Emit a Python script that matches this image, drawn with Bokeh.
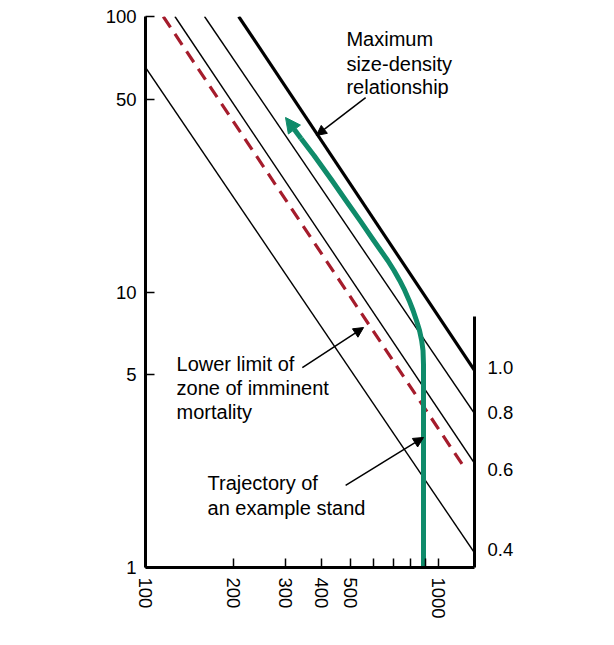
from bokeh.plotting import figure
from bokeh.models import (Range1d, LogAxis, LogScale, FixedTicker, NumeralTickFormatter,
                          Label, Arrow, NormalHead)
from bokeh.embed import file_html
from bokeh.resources import INLINE

# ---------------- data ----------------
# Relative-density lines: (trees per acre, average tree volume) end points
rd_levels = [1.0, 0.8, 0.6, 0.4]
rd_n_start = [208, 159, 126, 100]
rd_v_start = [100, 100, 100, 65.3]
rd_n_end = [1327, 1327, 1327, 1327]
rd_v_end = [5.19, 3.62, 2.39, 1.13]
rd_widths = [3.2, 1.4, 1.4, 1.4]

# Lower limit of zone of imminent mortality (dashed)
mort_n = [115, 1217]
mort_v = [100, 2.33]

# Trajectory of an example stand (from the start upward)
traj_n = [889, 889, 885.5, 876, 861.5, 841, 819, 794, 767, 737, 705, 671, 635, 601,
          540, 483, 433, 376, 339.5]
traj_v = [1.0, 5.41, 6.13, 6.67, 7.25, 7.88, 8.57, 9.32, 10.13, 11.01, 11.97, 13.01, 14.15,
          15.38, 18.17, 21.48, 25.39, 31.29, 36.07]
traj_tip = (300.5, 43.0)

x_ticks = [100, 200, 300, 400, 500, 1000]
x_minor_ticks = [600, 700, 800, 900]
y_ticks = [1, 5, 10, 50, 100]
rd_ticks = [0.4, 0.6, 0.8, 1.0]

FONT = "Liberation Sans"
GREEN = "#0F8B6A"
RED = "#A51C2C"

p = figure(width=614, height=645, x_axis_type="log", y_axis_type="log",
           x_range=Range1d(100, 1327), y_range=Range1d(1, 100),
           output_backend="svg", toolbar_location=None,
           min_border_left=145, min_border_right=140,
           min_border_top=16, min_border_bottom=78)
p.outline_line_color = None
p.xgrid.grid_line_color = None
p.ygrid.grid_line_color = None
p.background_fill_color = "white"
p.border_fill_color = "white"

# ---- bottom axis
xa = p.xaxis[0]
xa.ticker = FixedTicker(ticks=x_ticks, minor_ticks=x_minor_ticks)
xa.formatter = NumeralTickFormatter(format="0")
xa.axis_line_width = 3
xa.axis_line_color = "black"
xa.major_tick_in = 9
xa.major_tick_out = 0
xa.minor_tick_in = 9
xa.minor_tick_out = 0
xa.major_tick_line_width = 1.5
xa.minor_tick_line_width = 1.5
xa.major_tick_line_color = "black"
xa.minor_tick_line_color = "black"
xa.major_label_orientation = "vertical"
xa.major_label_standoff = 10
xa.major_label_text_font = FONT
xa.major_label_text_font_size = "18.5px"
xa.major_label_text_color = "black"

# ---- left axis
ya = p.yaxis[0]
ya.ticker = FixedTicker(ticks=y_ticks, minor_ticks=[])
ya.formatter = NumeralTickFormatter(format="0")
ya.axis_line_width = 3
ya.axis_line_color = "black"
ya.major_tick_in = 9
ya.major_tick_out = 0
ya.minor_tick_in = 0
ya.minor_tick_out = 0
ya.major_tick_line_width = 1.5
ya.major_tick_line_color = "black"
ya.major_label_standoff = 9
ya.major_label_text_font = FONT
ya.major_label_text_font_size = "18.5px"
ya.major_label_text_color = "black"

# ---- right axis: relative density
p.extra_y_ranges = {"rd": Range1d(start=0.3656, end=5.882)}
p.extra_y_scales = {"rd": LogScale()}
ra = LogAxis(y_range_name="rd",
             ticker=FixedTicker(ticks=rd_ticks, minor_ticks=[]),
             formatter=NumeralTickFormatter(format="0.0"),
             bounds=(0.3656, 1.296))
ra.axis_line_width = 3
ra.axis_line_color = "black"
ra.major_tick_in = 0
ra.major_tick_out = 0
ra.minor_tick_in = 0
ra.minor_tick_out = 0
ra.major_label_standoff = 13
ra.major_label_text_font = FONT
ra.major_label_text_font_size = "18.5px"
ra.major_label_text_color = "black"
p.add_layout(ra, "right")

# ---- relative density lines
for ns, vs, ne, ve, w in zip(rd_n_start, rd_v_start, rd_n_end, rd_v_end, rd_widths):
    p.line([ns, ne], [vs, ve], line_color="black", line_width=w)

# ---- mortality line
p.line(mort_n, mort_v, line_color=RED, line_width=3.2, line_dash="13 8")

# ---- trajectory
p.line(traj_n, traj_v, line_color=GREEN, line_width=5, line_cap="butt", line_join="round")
p.add_layout(Arrow(end=NormalHead(size=15, fill_color=GREEN, line_color=GREEN, line_width=1),
                   x_start=traj_n[-1], y_start=traj_v[-1],
                   x_end=traj_tip[0], y_end=traj_tip[1],
                   line_color=GREEN, line_width=5))

# ---- annotation arrows
def black_arrow(x0, y0, x1, y1):
    p.add_layout(Arrow(end=NormalHead(size=10, fill_color="black", line_color="black", line_width=1),
                       x_start=x0, y_start=y0, x_end=x1, y_end=y1,
                       line_color="black", line_width=1.5))

black_arrow(564, 50.8, 383, 37.0)     # maximum size-density
black_arrow(343, 5.32, 555, 7.43)     # lower limit of zone
black_arrow(482, 1.985, 889, 2.965)   # trajectory

# ---- texts
def txt(x, y, s, align="left"):
    p.add_layout(Label(x=x, y=y, text=s, text_font=FONT, text_font_size="20px",
                       text_color="black", text_align=align, text_baseline="middle"))

txt(485, 83.2, "Maximum")
txt(485, 67.5, "size-density")
txt(485, 55.3, "relationship")

txt(127.6, 5.50, "Lower limit of")
txt(127.6, 4.50, "zone of imminent")
txt(127.6, 3.68, "mortality")

txt(162.8, 2.018, "Trajectory of")
txt(162.8, 1.651, "an example stand")

txt(2143, 2.94, "Relative")
txt(2143, 2.385, "density")

txt(36.3, 15.64, "Average")
txt(36.3, 12.69, "tree")
txt(36.3, 10.38, "volume")
txt(36.3, 8.36, "(ft³)")

txt(395.6, 0.576, "Trees per acre", align="center")

open("out.html", "w").write(file_html(p, INLINE))
